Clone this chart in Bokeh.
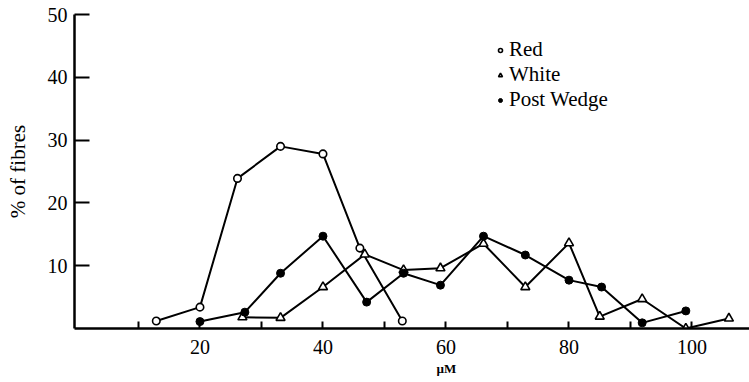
from bokeh.plotting import figure
from bokeh.models import Range1d, FixedTicker, Legend, LegendItem, Title
from bokeh.embed import file_html
from bokeh.resources import INLINE

# ---- data ----
red_x = [12.9, 20.0, 26.1, 33.1, 40.0, 46.0, 52.9]
red_y = [1.2, 3.4, 23.9, 29.0, 27.8, 12.8, 1.2]

white_x = [26.9, 33.1, 40.0, 46.8, 53.1, 59.1, 66.1, 72.9, 80.0, 85.0, 91.9, 99.0, 106.0]
white_y = [1.8, 1.7, 6.6, 11.8, 9.3, 9.6, 13.5, 6.6, 13.6, 1.9, 4.7, 0.0, 1.6]

pw_x = [20.0, 27.3, 33.1, 40.0, 47.1, 53.1, 59.1, 66.1, 72.9, 80.0, 85.3, 91.9, 99.0]
pw_y = [1.1, 2.6, 8.8, 14.7, 4.2, 8.8, 6.9, 14.7, 11.7, 7.7, 6.6, 0.9, 2.8]

x_major = [20, 40, 60, 80, 100]
x_minor = [10, 30, 50, 70, 90]
y_ticks = [10, 20, 30, 40, 50]

series_names = ["Red", "White", "Post Wedge"]

FONT = "Liberation Serif"

p = figure(width=749, height=382, output_backend="svg", toolbar_location=None,
           x_range=Range1d(-0.4, 109.35), y_range=Range1d(0, 50),
           min_border_left=74, min_border_right=0, min_border_top=14,
           min_border_bottom=54, background_fill_color="white",
           border_fill_color="white")
p.outline_line_color = None
p.grid.visible = False

# x axis
xa = p.xaxis[0]
xa.ticker = FixedTicker(ticks=x_major, minor_ticks=x_minor)
xa.axis_line_width = 2.5
xa.axis_line_color = "black"
xa.major_tick_in = 7
xa.major_tick_out = 0
xa.minor_tick_in = 7
xa.minor_tick_out = 0
xa.major_tick_line_width = 2
xa.minor_tick_line_width = 2
xa.major_label_standoff = 11
xa.major_label_text_font = FONT
xa.major_label_text_font_size = "20px"
xa.major_label_text_color = "black"

# x axis title, placed under the "60" label as in the reference
p.add_layout(Title(text="µM", align="left", offset=362, standoff=4,
                   vertical_align="bottom",
                   text_font=FONT, text_font_size="13px", text_font_style="bold",
                   text_color="black"), "below")

# y axis
ya = p.yaxis[0]
ya.ticker = FixedTicker(ticks=y_ticks)
ya.axis_line_width = 2.5
ya.axis_line_color = "black"
ya.major_tick_in = 15
ya.major_tick_out = 0
ya.minor_tick_in = 0
ya.minor_tick_out = 0
ya.major_tick_line_width = 2
ya.major_label_standoff = 7
ya.major_label_text_font = FONT
ya.major_label_text_font_size = "20px"
ya.major_label_text_color = "black"
ya.axis_label = "% of fibres"
ya.axis_label_text_font = FONT
ya.axis_label_text_font_size = "21px"
ya.axis_label_text_font_style = "normal"
ya.axis_label_text_color = "black"
ya.axis_label_standoff = 15

# lines
for xs, ys in [(red_x, red_y), (white_x, white_y), (pw_x, pw_y)]:
    p.line(xs, ys, line_color="black", line_width=2)

r_red = p.scatter(red_x, red_y, marker="circle", size=7.5, fill_color="white",
                  line_color="black", line_width=1.6)
r_white = p.scatter(white_x, white_y, marker="triangle", size=9, fill_color="white",
                    line_color="black", line_width=1.6)
r_pw = p.scatter(pw_x, pw_y, marker="circle", size=8, fill_color="black",
                 line_color="black", line_width=1)

legend = Legend(items=[LegendItem(label=series_names[0], renderers=[r_red]),
                       LegendItem(label=series_names[1], renderers=[r_white]),
                       LegendItem(label=series_names[2], renderers=[r_pw])],
                location=(421, 216), orientation="vertical",
                glyph_width=10, glyph_height=20, label_standoff=4, spacing=0,
                label_height=20,
                padding=0, margin=0, border_line_color=None,
                background_fill_alpha=0, label_text_font=FONT,
                label_text_font_size="21px", label_text_color="black")
p.add_layout(legend, "center")

open("out.html", "w").write(file_html(p, INLINE))
